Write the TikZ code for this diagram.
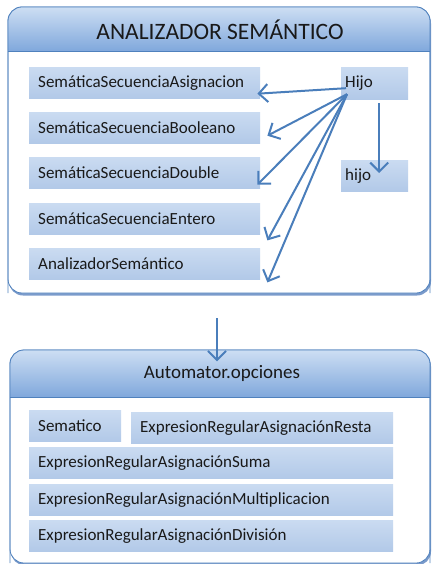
\documentclass[tikz,border=0pt]{standalone}
\usepackage{fontspec}
\setmainfont{Carlito}
\usetikzlibrary{arrows.meta,calc,shadows}
\definecolor{boxline}{RGB}{79,129,189}
\definecolor{arrowblue}{RGB}{74,126,187}
\definecolor{itemtop}{RGB}{202,219,241}
\definecolor{itembot}{RGB}{178,201,232}
\definecolor{headtop}{RGB}{205,222,243}
\definecolor{headbot}{RGB}{128,168,220}
\definecolor{shadowblue}{RGB}{90,130,190}
\tikzset{
  item/.style={anchor=north west, top color=itemtop, bottom color=itembot,
    draw=none, inner xsep=9pt, inner ysep=0pt, align=left,
    font=\fontsize{17}{19}\selectfont, text=black!90},
  container/.style={draw=boxline, line width=0.8pt, fill=white,
    rounded corners=14pt,
    drop shadow={shadow xshift=1pt, shadow yshift=-2.5pt, fill=shadowblue, opacity=0.8}},
  header/.style={top color=headtop, bottom color=headbot},
  link/.style={draw=arrowblue, line width=2pt,
    -{Straight Barb[length=9pt,width=18pt,line width=2pt]}},
}
\newcommand{\itembox}[5]{% name, x, y, width, text
  \node[item, minimum height=31pt, text width=#4pt-18pt] (#1) at (#2,#3) {#5};}
\begin{document}
\begin{tikzpicture}[x=1pt,y=-1pt]
\useasboundingbox (0,0) rectangle (431,564);

% upper container: ANALIZADOR SEMANTICO
\path[container] (8,7) rectangle (430,293);
\shade[header] (8,51) [rounded corners=14pt] -- (8,7) -- (430,7) [sharp corners] -- (430,51) -- cycle;
\draw[boxline, line width=0.8pt, rounded corners=14pt] (8,293) -- (8,7) -- (430,7) -- (430,293);
\draw[boxline, line width=0.8pt] (8,51) -- (430,51);
\node[font=\fontsize{23.5}{26}\selectfont, text=black!90] (title1) at (220,30) {ANALIZADOR SEMÁNTICO};

\itembox{asig}{29}{67}{231}{SemáticaSecuenciaAsignacion}
\itembox{bool}{29}{112}{231}{SemáticaSecuenciaBooleano}
\itembox{dbl}{29}{157}{231}{SemáticaSecuenciaDouble}
\itembox{ent}{29}{203}{231}{SemáticaSecuenciaEntero}
\itembox{anal}{29}{248}{231}{AnalizadorSemántico}
\node[item, minimum height=32pt, text width=67pt-8pt, inner xsep=4pt] (hijoA) at (341,67) {Hijo};
\node[item, minimum height=31pt, text width=67pt-8pt, inner xsep=4pt] (hijoB) at (341,160) {hijo};

% arrows fanning out of Hijo
\coordinate (s1) at ($(hijoA.west)+(5,5)$);
\coordinate (s2) at ($(hijoA.west)+(6,11)$);
\coordinate (t1) at ($(asig.east)+(-3,11)$);
\coordinate (t2) at ($(bool.east)+(7,8)$);
\coordinate (t3) at ($(dbl.east)+(-3,12)$);
\coordinate (t4) at ($(ent.south east)+(7,6)$);
\coordinate (t5) at ($(anal.south east)+(7,3)$);
\draw[link] (s1) -- (t1);
\draw[link] (s2) -- (t2);
\draw[link] (s2) -- (t3);
\draw[link] (s2) -- (t4);
\draw[link] (s2) -- (t5);
\coordinate (v1) at ($(hijoA.south)+(4.5,4)$);
\coordinate (v2) at ($(hijoB.north)+(4.5,13)$);
\draw[link] (v1) -- (v2);

% lower container: Automator.opciones
\path[container] (10,350) rectangle (430,563);
\shade[header] (10,397) [rounded corners=14pt] -- (10,350) -- (430,350) [sharp corners] -- (430,397) -- cycle;
\draw[boxline, line width=0.8pt, rounded corners=14pt] (10,563) -- (10,350) -- (430,350) -- (430,563);
\draw[boxline, line width=0.8pt] (10,397) -- (430,397);
\node[font=\fontsize{19}{22}\selectfont, text=black!90] (title2) at (222,373) {Automator.opciones};

\itembox{sem}{29}{410}{92}{Sematico}
\itembox{resta}{131}{412}{262}{ExpresionRegularAsignaciónResta}
\itembox{suma}{29}{447}{364}{ExpresionRegularAsignaciónSuma}
\itembox{mult}{29}{484}{364}{ExpresionRegularAsignaciónMultiplicacion}
\itembox{div}{29}{520}{364}{ExpresionRegularAsignaciónDivisión}

% link between the two containers
\coordinate (m1) at (217,318);
\draw[link] (m1) -- (title2.north -| m1);
\end{tikzpicture}
\end{document}
